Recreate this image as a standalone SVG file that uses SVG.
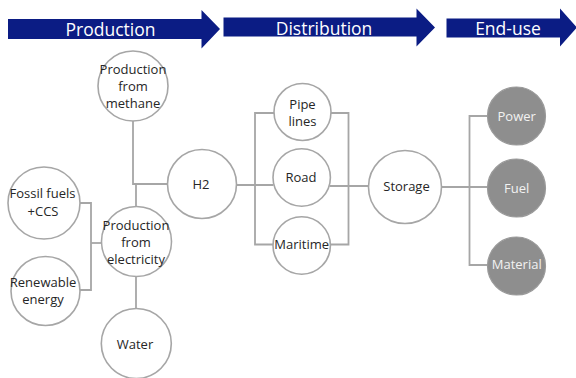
<svg xmlns="http://www.w3.org/2000/svg" width="576" height="378" viewBox="0 0 576 378">
  <style>
    .stage { fill: #0b1c84; }
    .stage-label { font-family: "Open Sans", "Noto Sans", sans-serif; font-size: 17.5px; fill: #ffffff; text-anchor: middle; }
    .node { fill: #ffffff; stroke: #a6a6a6; stroke-width: 1.6; }
    .use { fill: #8e8e8e; stroke: #9a9a9a; stroke-width: 1.2; }
    .label { font-family: "Open Sans", "Noto Sans", sans-serif; font-size: 13px; fill: #262626; text-anchor: middle; }
    .use-label { font-family: "Open Sans", "Noto Sans", sans-serif; font-size: 13px; fill: #f2f2f2; text-anchor: middle; }
    .link { fill: none; stroke: #a6a6a6; stroke-width: 1.8; }
  </style>
  <rect width="576" height="378" fill="#ffffff"/>

  <!-- stage banners -->
  <g id="stage-production">
    <polygon class="stage" points="8,19 201.5,19 201.5,10 220,29 201.5,48.5 201.5,39 8,39"/>
    <text class="stage-label" x="110.5" y="35.5">Production</text>
  </g>
  <g id="stage-distribution">
    <polygon class="stage" points="223.5,17.5 416.5,17.5 416.5,8.5 435,27.5 416.5,46.5 416.5,36.5 223.5,36.5"/>
    <text class="stage-label" x="324" y="34.5">Distribution</text>
  </g>
  <g id="stage-enduse">
    <polygon class="stage" points="446.5,18.5 560,18.5 560,8.5 577,27.5 560,46.5 560,37.5 446.5,37.5"/>
    <text class="stage-label" x="508" y="35">End-use</text>
  </g>

  <!-- connectors -->
  <g id="connectors">
    <polyline class="link" points="133,121 133,184 168,184"/>
    <line class="link" x1="136" y1="184" x2="136" y2="206"/>
    <polyline class="link" points="80,203 91,203 91,290 80,290"/>
    <line class="link" x1="91" y1="243" x2="101.5" y2="243"/>
    <line class="link" x1="136" y1="276.5" x2="136" y2="308.5"/>
    <line class="link" x1="236" y1="185" x2="273.5" y2="185"/>
    <polyline class="link" points="274.5,113 255,113 255,244.5 273.5,244.5"/>
    <polyline class="link" points="330.5,113 348.5,113 348.5,244.5 330,244.5"/>
    <line class="link" x1="329.5" y1="186" x2="368.5" y2="186"/>
    <line class="link" x1="442" y1="187" x2="488" y2="187"/>
    <polyline class="link" points="488,116 469.5,116 469.5,265 488,265"/>
  </g>

  <!-- production -->
  <g id="node-methane">
    <circle class="node" cx="133" cy="86" r="35"/>
    <text class="label" x="133" y="73.5">Production</text>
    <text class="label" x="133" y="90.5">from</text>
    <text class="label" x="133" y="107.5">methane</text>
  </g>
  <g id="node-h2">
    <circle class="node" cx="202" cy="184" r="34.5"/>
    <text class="label" x="201" y="188.5">H2</text>
  </g>
  <g id="node-fossil">
    <circle class="node" cx="44" cy="203" r="36"/>
    <text class="label" x="42.5" y="197.5">Fossil fuels</text>
    <text class="label" x="43" y="216">+CCS</text>
  </g>
  <g id="node-electricity">
    <circle class="node" cx="136.5" cy="241.5" r="35"/>
    <text class="label" x="136" y="230">Production</text>
    <text class="label" x="136" y="247">from</text>
    <text class="label" x="136" y="264">electricity</text>
  </g>
  <g id="node-renewable">
    <circle class="node" cx="45.5" cy="291" r="34.5"/>
    <text class="label" x="43" y="286.5">Renewable</text>
    <text class="label" x="43" y="303.5">energy</text>
  </g>
  <g id="node-water">
    <circle class="node" cx="136.3" cy="343.5" r="35"/>
    <text class="label" x="135" y="349">Water</text>
  </g>

  <!-- distribution -->
  <g id="node-pipelines">
    <circle class="node" cx="302.5" cy="112" r="28.5"/>
    <text class="label" x="302.5" y="109">Pipe</text>
    <text class="label" x="302.5" y="126">lines</text>
  </g>
  <g id="node-road">
    <circle class="node" cx="301.7" cy="177.5" r="28.7"/>
    <text class="label" x="301" y="181.5">Road</text>
  </g>
  <g id="node-maritime">
    <circle class="node" cx="301.7" cy="245.5" r="28.7"/>
    <text class="label" x="301.7" y="248.5">Maritime</text>
  </g>
  <g id="node-storage">
    <circle class="node" cx="405" cy="187" r="36.5"/>
    <text class="label" x="406.5" y="191">Storage</text>
  </g>

  <!-- end-use -->
  <g id="node-power">
    <circle class="use" cx="516.5" cy="116" r="29"/>
    <text class="use-label" x="516.7" y="121">Power</text>
  </g>
  <g id="node-fuel">
    <circle class="use" cx="516.5" cy="188" r="29"/>
    <text class="use-label" x="516.7" y="192.5">Fuel</text>
  </g>
  <g id="node-material">
    <circle class="use" cx="516.5" cy="266" r="29"/>
    <text class="use-label" x="516.7" y="268.5">Material</text>
  </g>
</svg>
